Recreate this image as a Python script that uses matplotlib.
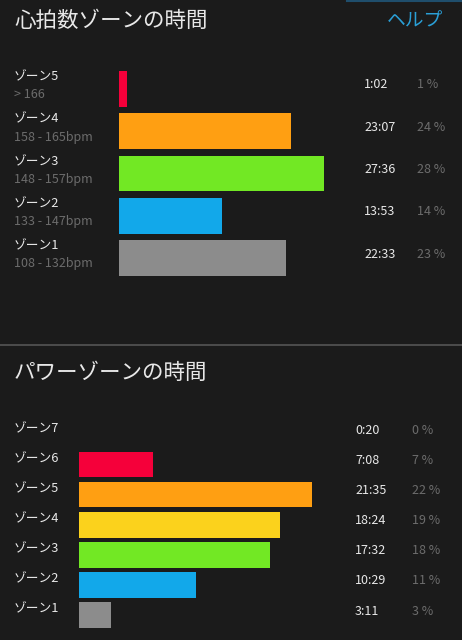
import matplotlib
matplotlib.use("Agg")
import matplotlib.pyplot as plt
from matplotlib.transforms import blended_transform_factory, offset_copy
from matplotlib.lines import Line2D

plt.rcParams['font.family'] = ['Noto Sans CJK JP', 'DejaVu Sans']

# ---- data ----
hr_title = "心拍数ゾーンの時間"
help_label = "ヘルプ"
hr_zones = ["ゾーン5", "ゾーン4", "ゾーン3", "ゾーン2", "ゾーン1"]
hr_ranges = ["> 166", "158 - 165bpm", "148 - 157bpm", "133 - 147bpm", "108 - 132bpm"]
hr_times = ["1:02", "23:07", "27:36", "13:53", "22:33"]
hr_seconds = [62, 1387, 1656, 833, 1353]
hr_pct = ["1 %", "24 %", "28 %", "14 %", "23 %"]
hr_colors = ["#f5003a", "#ff9f12", "#72e824", "#12a8ea", "#8c8c8c"]

pw_title = "パワーゾーンの時間"
pw_zones = ["ゾーン7", "ゾーン6", "ゾーン5", "ゾーン4", "ゾーン3", "ゾーン2", "ゾーン1"]
pw_times = ["0:20", "7:08", "21:35", "18:24", "17:32", "10:29", "3:11"]
pw_pct_vals = [0, 7, 22, 19, 18, 11, 3]
pw_pct = ["0 %", "7 %", "22 %", "19 %", "18 %", "11 %", "3 %"]
pw_colors = ["#9a2bd0", "#f5003a", "#ff9f12", "#fbd21c", "#72e824", "#12a8ea", "#8c8c8c"]

# ---- layout ----
W, H = 462, 640
BG = "#1b1b1b"
fig = plt.figure(figsize=(W / 100, H / 100), dpi=100, facecolor=BG)

def fx(px):
    return px / W

def fy(py):
    return 1 - py / H

def add_axes_px(left, top, width, height):
    ax = fig.add_axes([fx(left), fy(top + height), width / W, height / H])
    ax.set_facecolor("none")
    ax.axis("off")
    return ax

WHITE = "#e8e8e8"
GRAY = "#6c6c6c"

# top decorations
fig.add_artist(Line2D([fx(347), 1], [fy(0.7), fy(0.7)], color="#1f4e6c", lw=1.5))
fig.text(fx(14), fy(21), hr_title, color=WHITE, fontsize=15.5, ha="left", va="center")
fig.text(fx(443), fy(21), help_label, color="#2a9fd6", fontsize=13.5, ha="right", va="center")

# ---- heart-rate panel ----
n = len(hr_zones)
step = 42.25
ax1 = add_axes_px(119, 89 - step / 2, 205, step * n)
ax1.barh(range(n), hr_seconds, height=0.85, color=hr_colors, linewidth=0)
ax1.set_xlim(0, max(hr_seconds))
ax1.set_ylim(n - 0.5, -0.5)

tr = blended_transform_factory(fig.transFigure, ax1.transData)
for i in range(n):
    ax1.text(fx(14), i, hr_zones[i], transform=offset_copy(tr, fig=fig, y=12, units="dots"),
             color=WHITE, fontsize=9.2, ha="left", va="center")
    ax1.text(fx(14), i, hr_ranges[i], transform=offset_copy(tr, fig=fig, y=-6, units="dots"),
             color=GRAY, fontsize=9, ha="left", va="center")
    ax1.text(fx(364), i, hr_times[i], transform=offset_copy(tr, fig=fig, y=4, units="dots"),
             color=WHITE, fontsize=9, ha="left", va="center")
    ax1.text(fx(417), i, hr_pct[i], transform=offset_copy(tr, fig=fig, y=4, units="dots"),
             color=GRAY, fontsize=9, ha="left", va="center")

# separator
fig.add_artist(Line2D([0, 1], [fy(345), fy(345)], color="#555555", lw=1.2))

fig.text(fx(14), fy(373), pw_title, color=WHITE, fontsize=15.5, ha="left", va="center")

# ---- power panel ----
m = len(pw_zones)
step2 = 30.1
ax2 = add_axes_px(79, 434.5 - step2 / 2, 233, step2 * m)
ax2.barh(range(m), pw_pct_vals, height=0.85, color=pw_colors, linewidth=0)
ax2.set_xlim(0, max(pw_pct_vals))
ax2.set_ylim(m - 0.5, -0.5)

tr2 = blended_transform_factory(fig.transFigure, ax2.transData)
for i in range(m):
    ax2.text(fx(14), i, pw_zones[i], transform=offset_copy(tr2, fig=fig, y=6, units="dots"),
             color=WHITE, fontsize=9.2, ha="left", va="center")
    ax2.text(fx(355), i, pw_times[i], transform=offset_copy(tr2, fig=fig, y=4, units="dots"),
             color=WHITE, fontsize=9, ha="left", va="center")
    ax2.text(fx(412), i, pw_pct[i], transform=offset_copy(tr2, fig=fig, y=4, units="dots"),
             color=GRAY, fontsize=9, ha="left", va="center")

fig.savefig("out.png", dpi=100, facecolor=BG)
